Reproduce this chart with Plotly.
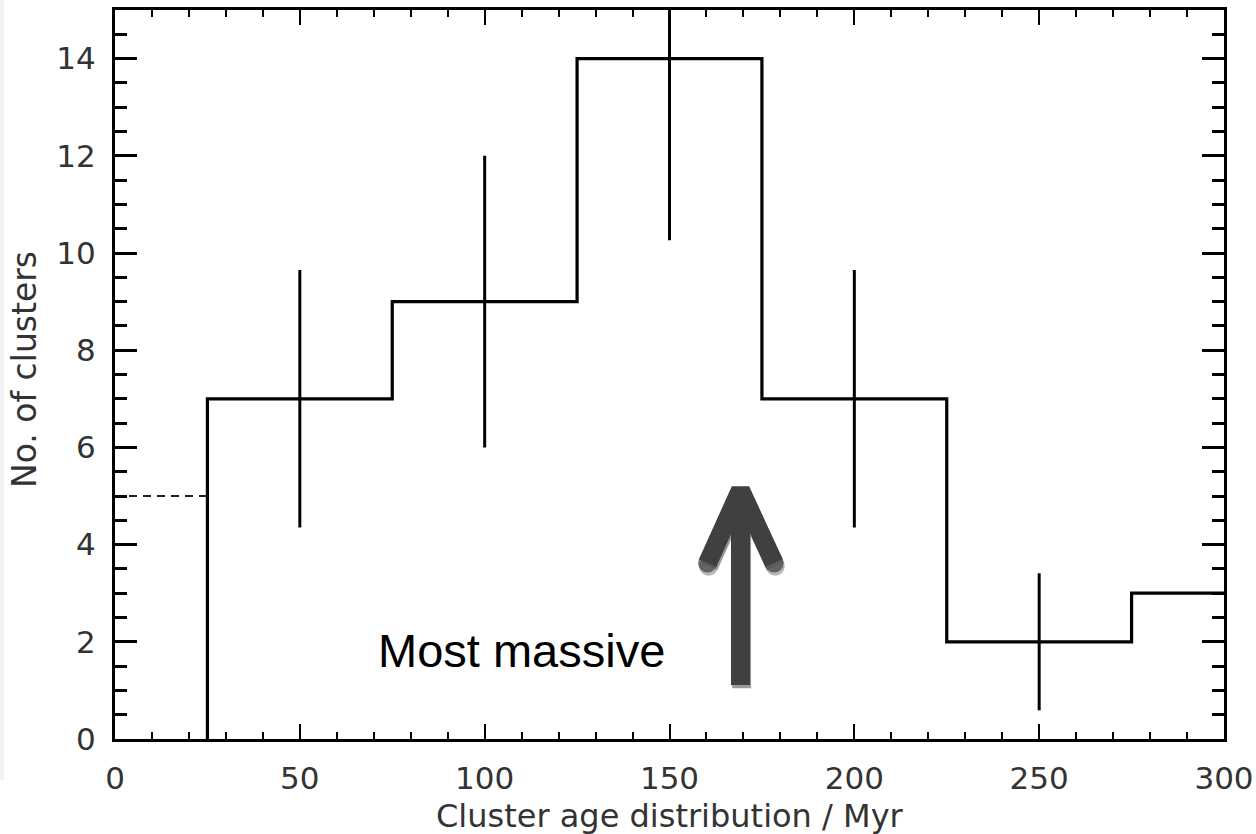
import plotly.graph_objects as go

# ---- data ----
bin_edges = [25, 75, 125, 175, 225, 275, 300]
counts = [7, 9, 14, 7, 2, 3]
err_x = [50, 100, 150, 200, 250]
err_y = [7, 9, 14, 7, 2]
err_size = [2.65, 3.0, 3.74, 2.65, 1.41]
dash_x = [0, 25]
dash_level = 5
x_ticks = [0, 50, 100, 150, 200, 250, 300]
y_ticks = [0, 2, 4, 6, 8, 10, 12, 14]

# arrow annotation (data coords)
arrow_x = 169.2
arrow_base = 1.11
arrow_vertex = 5.12
arrow_arm_y = 3.62
arrow_arm_left = 160.3
arrow_arm_right = 178.3
label_text = "Most massive"
label_x = 110.0
label_y = 1.83

W, H = 1256, 834
ML, MR, MT, MB = 115, 32, 10, 95
PW = W - ML - MR
PH = H - MT - MB

hist_x = [bin_edges[0]] + bin_edges
hist_y = [0] + counts + [counts[-1]]

fig = go.Figure()

# dashed line
fig.add_trace(go.Scatter(x=dash_x, y=[dash_level, dash_level], mode="lines",
                         line=dict(color="#222222", width=2, dash="8px,6px"),
                         hoverinfo="skip", showlegend=False))
# histogram
fig.add_trace(go.Scatter(x=hist_x, y=hist_y, mode="lines", line_shape="hv",
                         line=dict(color="black", width=3.2),
                         hoverinfo="skip", showlegend=False))
# error bars
fig.add_trace(go.Scatter(x=err_x, y=err_y, mode="markers",
                         marker=dict(size=0.1, color="black"),
                         error_y=dict(type="data", array=err_size, visible=True,
                                      width=0, thickness=3, color="black"),
                         hoverinfo="skip", showlegend=False))

# arrow: shadow then main
shadow_dx, shadow_dy = 0.3, -0.065
for col, dx, dy in [("#9a9a9a", shadow_dx, shadow_dy), ("#404040", 0, 0)]:
    fig.add_trace(go.Scatter(x=[arrow_x + dx, arrow_x + dx],
                             y=[arrow_base + dy, arrow_vertex - 0.3 + dy],
                             mode="lines", line=dict(color=col, width=19),
                             hoverinfo="skip", showlegend=False))
    fig.add_trace(go.Scatter(x=[arrow_arm_left + dx, arrow_x + dx, arrow_arm_right + dx],
                             y=[arrow_arm_y + dy, arrow_vertex + dy, arrow_arm_y + dy],
                             mode="lines+markers",
                             line=dict(color=col, width=19),
                             marker=dict(size=[19, 0, 19], color=col, line=dict(width=0)),
                             hoverinfo="skip", showlegend=False))

fig.add_annotation(x=label_x, y=label_y, xref="x", yref="y", text=label_text,
                   showarrow=False, font=dict(family="Liberation Sans, Arial", size=47, color="black"))

tick_font = dict(family="DejaVu Sans", size=31, color="#333333")

fig.update_xaxes(range=[0, 300], tickvals=x_ticks, ticktext=[str(v) for v in x_ticks],
                 ticks="inside", ticklen=15, tickwidth=2, tickcolor="black",
                 minor=dict(dtick=10, ticks="inside", ticklen=7, tickwidth=2, tickcolor="black"),
                 showline=True, linewidth=3, linecolor="black", mirror="ticks",
                 showgrid=False, zeroline=False, tickfont=tick_font,
                 ticklabelstandoff=10, automargin=False)
fig.update_yaxes(range=[0, 15], tickvals=y_ticks, ticktext=[str(v) for v in y_ticks],
                 ticks="inside", ticklen=22, tickwidth=3, tickcolor="black",
                 minor=dict(dtick=0.5, ticks="inside", ticklen=12, tickwidth=3, tickcolor="black"),
                 showline=True, linewidth=3, linecolor="black", mirror="ticks",
                 showgrid=False, zeroline=False, tickfont=tick_font,
                 ticklabelstandoff=10, automargin=False)

# axis titles
fig.add_annotation(x=0.5, y=(H - MB - 816) / PH,
                   xref="paper", yref="paper", text="Cluster age distribution / Myr",
                   showarrow=False, xanchor="center", yanchor="middle",
                   font=dict(family="DejaVu Sans", size=32, color="#333333"))
fig.add_annotation(x=(24 - ML) / PW, y=(H - MB - 370) / PH, xref="paper", yref="paper",
                   text="No. of clusters", textangle=-90, showarrow=False,
                   xanchor="center", yanchor="middle",
                   font=dict(family="DejaVu Sans", size=33, color="#333333"))

# light strip at far left
fig.add_shape(type="rect", xref="paper", yref="paper",
              x0=(0 - ML) / PW, x1=(4 - ML) / PW, y0=(H - MB - 780) / PH, y1=(H - MB) / PH + MT / PH,
              fillcolor="#f2f2f2", line=dict(width=0), layer="below")

fig.update_layout(width=W, height=H, margin=dict(l=ML, r=MR, t=MT, b=MB, autoexpand=False),
                  paper_bgcolor="white", plot_bgcolor="white", showlegend=False)

fig.write_html("out.html")
